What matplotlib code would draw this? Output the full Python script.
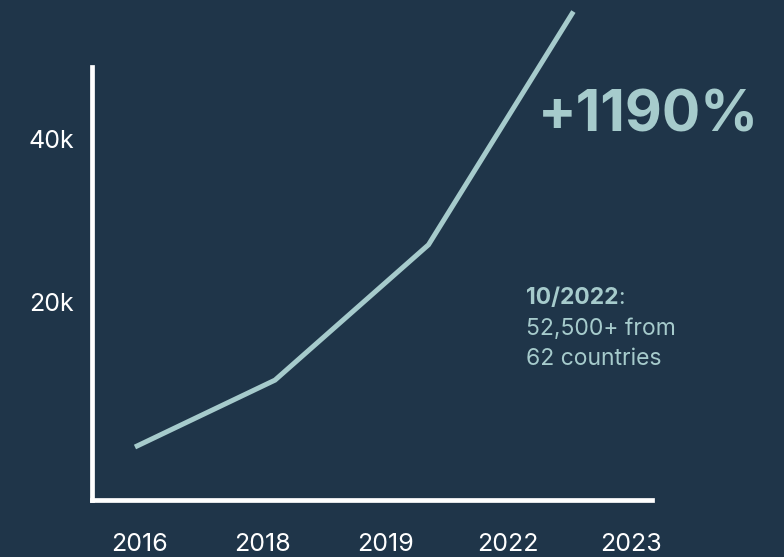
import matplotlib
matplotlib.use("Agg")
import matplotlib.pyplot as plt

# timeline positions (tick slots) and member counts along the growth line
year_labels = ["2016", "2018", "2019", "2022", "2023"]
line_pos = [-0.04, 1.10, 2.35, 3.53]
members = [2200, 10400, 27000, 55600]
ytick_vals = [20000, 40000]
ytick_labels = ["20k", "40k"]

BG = "#1f3549"
TEAL = "#a6cbcc"
WHITE = "#ffffff"

plt.rcParams["font.family"] = ["Inter", "DejaVu Sans"]

fig = plt.figure(figsize=(7.84, 5.57), dpi=100, facecolor=BG)
ax = fig.add_axes([92 / 784, 57 / 557, 560 / 784, 433 / 557])
ax.set_facecolor(BG)

ax.plot(line_pos, members, color=TEAL, lw=3.6, clip_on=False,
        solid_joinstyle="miter", solid_capstyle="butt", zorder=3)

ax.set_xlim(-0.39, 4.17)
ax.set_ylim(-4300, 48800)

for side in ("top", "right"):
    ax.spines[side].set_visible(False)
for side in ("left", "bottom"):
    ax.spines[side].set_color(WHITE)
    ax.spines[side].set_linewidth(3.4)

ax.set_xticks(range(len(year_labels)))
ax.set_xticklabels(year_labels)
ax.set_yticks(ytick_vals)
ax.set_yticklabels(ytick_labels)
ax.tick_params(length=0, colors=WHITE, labelsize=18)
ax.tick_params(axis="x", pad=24)
ax.tick_params(axis="y", pad=13)

fig.text(538 / 784, 1 - 116 / 557, "+1190%", color=TEAL, fontsize=41,
         fontweight="bold", ha="left", va="center")

# callout: bold date, regular colon and two lines of detail
x0 = 526 / 784
date = fig.text(x0, 1 - 298 / 557, "10/2022", color=TEAL, fontsize=16.5,
                fontweight="bold", ha="left", va="center")
fig.canvas.draw()
bb = date.get_window_extent(fig.canvas.get_renderer())
fig.text(bb.x1 / fig.bbox.width, 1 - 298 / 557, ":", color=TEAL, fontsize=16.5,
         ha="left", va="center")
fig.text(x0, 1 - 329 / 557, "52,500+ from", color=TEAL, fontsize=16.5,
         ha="left", va="center")
fig.text(x0, 1 - 359 / 557, "62 countries", color=TEAL, fontsize=16.5,
         ha="left", va="center")

fig.savefig("out.png", dpi=100, facecolor=BG)
